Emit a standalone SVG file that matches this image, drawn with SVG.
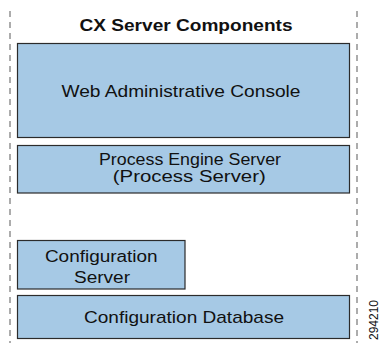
<svg xmlns="http://www.w3.org/2000/svg" width="380" height="343" viewBox="0 0 380 343">
<style>
.box{fill:#a6c9e5;stroke:#2b2b2b;stroke-width:1.2}
.lbl{font-family:"Liberation Sans",Arial,sans-serif;font-size:17px;fill:#111;text-anchor:middle}
.sm{font-size:16px}
.ttl{font-family:"Liberation Sans",Arial,sans-serif;font-size:17px;font-weight:bold;fill:#111;text-anchor:middle}
.dash{stroke:#808080;stroke-width:1.3;stroke-dasharray:6 5;fill:none}
</style>
<rect width="380" height="343" fill="#fff"/>
<g id="boundary">
<line class="dash" x1="10" y1="11" x2="10" y2="343"/>
<line class="dash" x1="357" y1="11" x2="357" y2="343"/>
</g>
<text class="ttl" x="186" y="31" textLength="213" lengthAdjust="spacingAndGlyphs">CX Server Components</text>
<g id="web-console">
<rect class="box" x="17.5" y="43.5" width="332" height="94"/>
<text class="lbl" x="181" y="96.7" textLength="239" lengthAdjust="spacingAndGlyphs">Web Administrative Console</text>
</g>
<g id="process-engine">
<rect class="box" x="17.5" y="145.5" width="332" height="47.5"/>
<text class="lbl sm" x="190" y="165" textLength="182" lengthAdjust="spacingAndGlyphs">Process Engine Server</text>
<text class="lbl sm" x="189.3" y="181.5" textLength="153" lengthAdjust="spacingAndGlyphs">(Process Server)</text>
</g>
<g id="config-server">
<rect class="box" x="17.5" y="240.5" width="167.5" height="48.5"/>
<text class="lbl sm" x="101.3" y="261.7" textLength="112.7" lengthAdjust="spacingAndGlyphs">Configuration</text>
<text class="lbl sm" x="102" y="283.3" textLength="56" lengthAdjust="spacingAndGlyphs">Server</text>
</g>
<g id="config-db">
<rect class="box" x="17.5" y="295.5" width="332" height="43"/>
<text class="lbl" x="184" y="323.3" textLength="200" lengthAdjust="spacingAndGlyphs">Configuration Database</text>
</g>
<g id="connectors"/>
<text x="0" y="0" transform="translate(378,320) rotate(-90)" font-family="'Liberation Sans',Arial,sans-serif" font-size="12" fill="#111" text-anchor="middle">294210</text>
</svg>
